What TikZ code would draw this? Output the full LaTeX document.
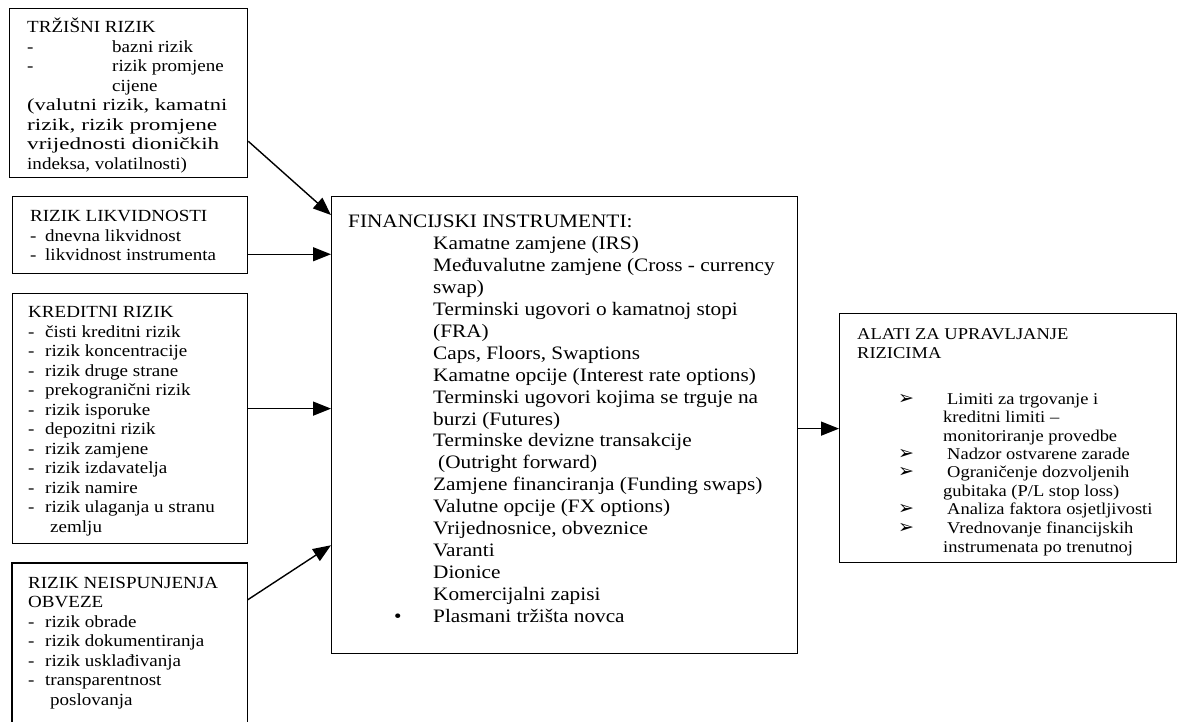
\documentclass[tikz,border=0pt]{standalone}
\usepackage{fontspec}
\usepackage{graphicx}
\setmainfont{Liberation Serif}[FakeStretch=1.12]
\newfontfamily\symfont{DejaVu Sans}
\usetikzlibrary{arrows.meta,calc}
\newcommand{\txtlines}[1]{\begin{tabular}[t]{@{}l@{}}#1\end{tabular}}
\newcommand{\wline}[2]{\resizebox{#1}{\height}{#2}}
\newcommand{\arw}{{\symfont\fontsize{19}{19}\selectfont ➢}}
\begin{document}
\begin{tikzpicture}[x=1pt,y=-1pt,
  box/.style={draw=black, line width=1.25pt, inner sep=0pt, anchor=north west},
  frame/.style={inner sep=0pt, anchor=north west},
  txt/.style={inner sep=0pt, anchor=base west, text=black},
  lft/.style={font=\fontsize{17}{19.5}\selectfont},
  ctr/.style={font=\fontsize{19}{21.9}\selectfont},
  rgt/.style={font=\fontsize{16.5}{18.5}\selectfont},
  arr/.style={-{Triangle[length=18pt,width=14pt]}, line width=1.4pt}]
\useasboundingbox (0,0) rectangle (1179,722);
\fill[white] (0,0) rectangle (1179,722);

% boxes
\node[box, minimum width=238pt, minimum height=169pt] (b1) at (9,8) {};
\node[box, minimum width=235pt, minimum height=77pt] (b2) at (12,196) {};
\node[box, minimum width=235pt, minimum height=250pt] (b3) at (12,293) {};
\node[frame, minimum width=235pt, minimum height=159pt] (b4) at (12,563) {};
\draw[line width=1.25pt] (b4.south west) -- (b4.north west) -- (b4.north east) -- (b4.south east);
\node[box, minimum width=466pt, minimum height=457pt] (c) at (331,196) {};
\node[box, minimum width=337pt, minimum height=249pt] (r) at (839,313) {};

% texts
\node[txt, lft] (t1) at (27,33) {\txtlines{TRŽIŠNI RIZIK\\
\makebox[85pt][l]{-}bazni rizik\\
\makebox[85pt][l]{-}rizik promjene\\
\hspace*{85pt}cijene\\
\wline{200pt}{(valutni rizik, kamatni}\\
\wline{190pt}{rizik, rizik promjene}\\
\wline{192pt}{vrijednosti dioničkih}\\
indeksa, volatilnosti)}};

\node[txt, lft] (t2) at (30,222) {\txtlines{RIZIK LIKVIDNOSTI\\
\makebox[15pt][l]{-}dnevna likvidnost\\
\makebox[15pt][l]{-}likvidnost instrumenta}};

\node[txt, lft] (t3) at (28,318) {\txtlines{KREDITNI RIZIK\\
\makebox[17pt][l]{-}čisti kreditni rizik\\
\makebox[17pt][l]{-}rizik koncentracije\\
\makebox[17pt][l]{-}rizik druge strane\\
\makebox[17pt][l]{-}prekogranični rizik\\
\makebox[17pt][l]{-}rizik isporuke\\
\makebox[17pt][l]{-}depozitni rizik\\
\makebox[17pt][l]{-}rizik zamjene\\
\makebox[17pt][l]{-}rizik izdavatelja\\
\makebox[17pt][l]{-}rizik namire\\
\makebox[17pt][l]{-}rizik ulaganja u stranu\\
\hspace*{22pt}zemlju}};

\node[txt, lft] (t4) at (28,588) {\txtlines{RIZIK NEISPUNJENJA\\
OBVEZE\\
\makebox[17pt][l]{-}rizik obrade\\
\makebox[17pt][l]{-}rizik dokumentiranja\\
\makebox[17pt][l]{-}rizik usklađivanja\\
\makebox[17pt][l]{-}transparentnost\\
\hspace*{22pt}poslovanja}};

\node[txt, ctr] (tc) at (348,228) {\txtlines{FINANCIJSKI INSTRUMENTI:\\
\hspace*{85pt}Kamatne zamjene (IRS)\\
\hspace*{85pt}Međuvalutne zamjene (Cross - currency\\
\hspace*{85pt}swap)\\
\hspace*{85pt}Terminski ugovori o kamatnoj stopi\\
\hspace*{85pt}(FRA)\\
\hspace*{85pt}Caps, Floors, Swaptions\\
\hspace*{85pt}Kamatne opcije (Interest rate options)\\
\hspace*{85pt}Terminski ugovori kojima se trguje na\\
\hspace*{85pt}burzi (Futures)\\
\hspace*{85pt}Terminske devizne transakcije\\
\hspace*{90pt}(Outright forward)\\
\hspace*{85pt}Zamjene financiranja (Funding swaps)\\
\hspace*{85pt}Valutne opcije (FX options)\\
\hspace*{85pt}Vrijednosnice, obveznice\\
\hspace*{85pt}Varanti\\
\hspace*{85pt}Dionice\\
\hspace*{85pt}Komercijalni zapisi\\
\hspace*{46pt}\makebox[39pt][l]{\textbullet}Plasmani tržišta novca}};

\node[txt, rgt] (th) at (857,340) {\txtlines{ALATI ZA UPRAVLJANJE\\
RIZICIMA}};

\node[txt, rgt] (ti) at (857,404) {\txtlines{\hspace*{41pt}\makebox[49pt][l]{\arw}Limiti za trgovanje i\\
\hspace*{86pt}kreditni limiti –\\
\hspace*{86pt}monitoriranje provedbe\\
\hspace*{41pt}\makebox[49pt][l]{\arw}Nadzor ostvarene zarade\\
\hspace*{41pt}\makebox[49pt][l]{\arw}Ograničenje dozvoljenih\\
\hspace*{86pt}gubitaka (P/L stop loss)\\
\hspace*{41pt}\makebox[49pt][l]{\arw}Analiza faktora osjetljivosti\\
\hspace*{41pt}\makebox[49pt][l]{\arw}Vrednovanje financijskih\\
\hspace*{86pt}instrumenata po trenutnoj}};

% connectors
\draw[arr] ($(b1.south east)+(0,-37)$) -- ($(c.north west)+(0,19)$);
\coordinate (s2) at ($(b2.south east)+(0,-20)$);
\draw[arr] (s2) -- (s2 -| c.west);
\coordinate (s3) at ($(b3.east)+(0,-10)$);
\draw[arr] (s3) -- (s3 -| c.west);
\draw[arr] ($(b4.north east)+(0,37)$) -- ($(c.south west)+(0,-109)$);
\coordinate (s5) at ($(r.west)+(0,-9.5)$);
\draw[arr] (s5 -| c.east) -- (s5);
\end{tikzpicture}
\end{document}
